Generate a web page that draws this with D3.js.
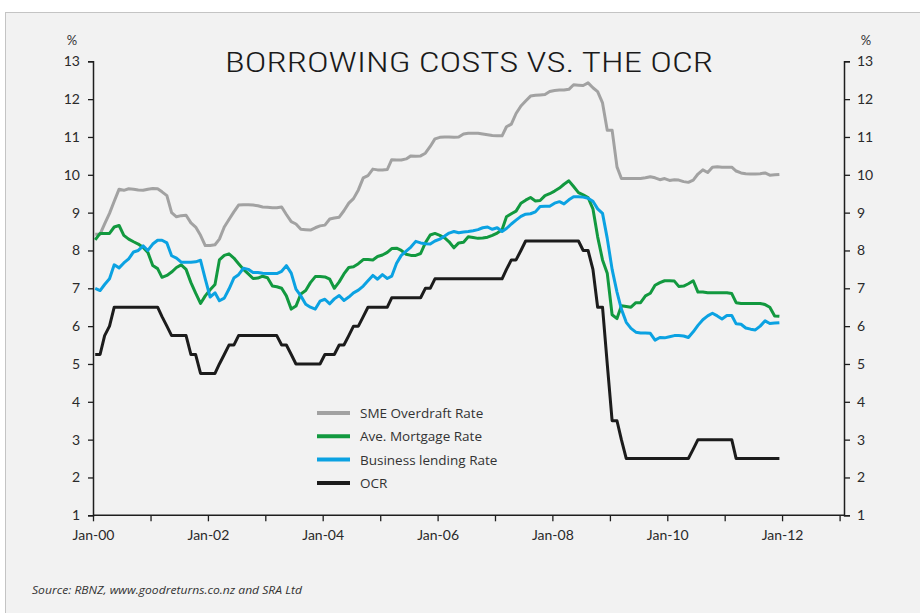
<!DOCTYPE html>
<html>
<head>
<meta charset="utf-8">
<script src="https://cdn.jsdelivr.net/npm/d3@7"></script>
<style>
  html, body { margin: 0; padding: 0; background: #ffffff; }
  svg { display: block; }
</style>
</head>
<body>
<svg id="chart" width="920" height="613"></svg>
<script>
// ---------- DATA (monthly, Jan 2000 – Dec 2011) ----------
const startMonth = "2000-01";
const endMonth = "2011-12";

const smeOverdraft = [
  8.43, 8.43, 8.70, 8.98, 9.30, 9.62, 9.59, 9.63, 9.62, 9.60, 9.59, 9.62,
  9.64, 9.63, 9.55, 9.45, 9.00, 8.89, 8.92, 8.93, 8.73, 8.62, 8.40, 8.13,
  8.13, 8.15, 8.30, 8.62, 8.82, 9.02, 9.20, 9.21, 9.21, 9.20, 9.18, 9.15,
  9.14, 9.13, 9.13, 9.15, 8.95, 8.76, 8.70, 8.56, 8.55, 8.54, 8.60, 8.65,
  8.67, 8.83, 8.86, 8.88, 9.05, 9.25, 9.37, 9.60, 9.92, 9.98, 10.15, 10.13,
  10.13, 10.14, 10.40, 10.39, 10.39, 10.42, 10.50, 10.49, 10.50, 10.57, 10.75, 10.95,
  10.99, 11.00, 11.00, 10.99, 11.00, 11.08, 11.10, 11.10, 11.10, 11.08, 11.06, 11.04,
  11.03, 11.03, 11.27, 11.34, 11.62, 11.82, 11.95, 12.08, 12.10, 12.11, 12.12, 12.20,
  12.23, 12.24, 12.24, 12.26, 12.38, 12.37, 12.36, 12.43, 12.30, 12.20, 11.90, 11.18,
  11.18, 10.21, 9.90, 9.90, 9.90, 9.90, 9.90, 9.92, 9.95, 9.92, 9.87, 9.90,
  9.85, 9.87, 9.86, 9.82, 9.80, 9.86, 10.02, 10.13, 10.06, 10.20, 10.21, 10.20,
  10.20, 10.20, 10.10, 10.05, 10.03, 10.02, 10.02, 10.03, 10.05, 9.99, 10.00, 10.01
];

const mortgageRate = [
  8.28, 8.45, 8.45, 8.45, 8.62, 8.66, 8.40, 8.30, 8.23, 8.17, 8.08, 7.95,
  7.60, 7.52, 7.29, 7.34, 7.43, 7.55, 7.62, 7.50, 7.15, 6.87, 6.60, 6.80,
  6.96, 7.10, 7.75, 7.87, 7.91, 7.80, 7.65, 7.50, 7.38, 7.26, 7.27, 7.32,
  7.28, 7.06, 7.04, 7.00, 6.80, 6.45, 6.53, 6.85, 6.94, 7.15, 7.31, 7.31,
  7.30, 7.24, 7.00, 7.17, 7.38, 7.55, 7.57, 7.65, 7.76, 7.76, 7.75, 7.84,
  7.88, 7.95, 8.05, 8.06, 8.00, 7.90, 7.87, 7.87, 7.92, 8.20, 8.41, 8.45,
  8.40, 8.33, 8.23, 8.07, 8.20, 8.22, 8.36, 8.34, 8.32, 8.33, 8.35, 8.40,
  8.46, 8.55, 8.89, 8.97, 9.04, 9.25, 9.33, 9.40, 9.31, 9.32, 9.45, 9.50,
  9.57, 9.65, 9.75, 9.84, 9.69, 9.53, 9.47, 9.40, 9.10, 8.36, 7.75, 7.40,
  6.30, 6.20, 6.54, 6.52, 6.50, 6.62, 6.62, 6.80, 6.87, 7.08, 7.15, 7.20,
  7.20, 7.19, 7.05, 7.06, 7.12, 7.20, 6.90, 6.90, 6.88, 6.88, 6.88, 6.88,
  6.88, 6.86, 6.62, 6.60, 6.60, 6.60, 6.60, 6.60, 6.57, 6.50, 6.27, 6.26
];

const businessLending = [
  7.00, 6.94, 7.10, 7.25, 7.62, 7.54, 7.67, 7.78, 7.96, 8.00, 8.12, 8.00,
  8.17, 8.27, 8.27, 8.20, 7.86, 7.80, 7.69, 7.69, 7.69, 7.70, 7.74, 7.25,
  6.77, 6.88, 6.67, 6.74, 6.98, 7.27, 7.36, 7.53, 7.50, 7.42, 7.42, 7.40,
  7.39, 7.39, 7.39, 7.45, 7.60, 7.40, 6.98, 6.80, 6.58, 6.50, 6.45, 6.66,
  6.71, 6.59, 6.72, 6.81, 6.68, 6.77, 6.88, 6.95, 7.06, 7.20, 7.34, 7.24,
  7.36, 7.26, 7.32, 7.66, 7.87, 7.98, 8.09, 8.24, 8.20, 8.18, 8.17, 8.25,
  8.30, 8.38, 8.46, 8.50, 8.47, 8.49, 8.50, 8.52, 8.55, 8.60, 8.62, 8.56,
  8.60, 8.50, 8.58, 8.70, 8.80, 8.90, 8.96, 8.97, 9.02, 9.16, 9.17, 9.17,
  9.25, 9.29, 9.23, 9.34, 9.42, 9.42, 9.41, 9.38, 9.30, 9.10, 8.98, 8.32,
  7.50, 6.90, 6.45, 6.10, 5.94, 5.84, 5.82, 5.82, 5.81, 5.63, 5.70, 5.69,
  5.72, 5.75, 5.75, 5.74, 5.70, 5.85, 6.02, 6.17, 6.27, 6.34, 6.27, 6.19,
  6.28, 6.28, 6.06, 6.05, 5.95, 5.92, 5.90, 6.00, 6.14, 6.07, 6.08, 6.09
];

const ocr = [
  5.25, 5.25, 5.75, 6.00, 6.50, 6.50, 6.50, 6.50, 6.50, 6.50, 6.50, 6.50,
  6.50, 6.50, 6.25, 6.00, 5.75, 5.75, 5.75, 5.75, 5.25, 5.25, 4.75, 4.75,
  4.75, 4.75, 5.00, 5.25, 5.50, 5.50, 5.75, 5.75, 5.75, 5.75, 5.75, 5.75,
  5.75, 5.75, 5.75, 5.50, 5.50, 5.25, 5.00, 5.00, 5.00, 5.00, 5.00, 5.00,
  5.25, 5.25, 5.25, 5.50, 5.50, 5.75, 6.00, 6.00, 6.25, 6.50, 6.50, 6.50,
  6.50, 6.50, 6.75, 6.75, 6.75, 6.75, 6.75, 6.75, 6.75, 7.00, 7.00, 7.25,
  7.25, 7.25, 7.25, 7.25, 7.25, 7.25, 7.25, 7.25, 7.25, 7.25, 7.25, 7.25,
  7.25, 7.25, 7.50, 7.75, 7.75, 8.00, 8.25, 8.25, 8.25, 8.25, 8.25, 8.25,
  8.25, 8.25, 8.25, 8.25, 8.25, 8.25, 8.00, 8.00, 7.50, 6.50, 6.50, 5.00,
  3.50, 3.50, 3.00, 2.50, 2.50, 2.50, 2.50, 2.50, 2.50, 2.50, 2.50, 2.50,
  2.50, 2.50, 2.50, 2.50, 2.50, 2.75, 3.00, 3.00, 3.00, 3.00, 3.00, 3.00,
  3.00, 3.00, 2.50, 2.50, 2.50, 2.50, 2.50, 2.50, 2.50, 2.50, 2.50, 2.50
];

const seriesNames = ["SME Overdraft Rate", "Ave. Mortgage Rate", "Business lending Rate", "OCR"];
const seriesColors = ["#a2a2a2", "#12993f", "#0ba2e2", "#1c1c1c"];
const yTickValues = [1, 2, 3, 4, 5, 6, 7, 8, 9, 10, 11, 12, 13];
const xTickYears = [2000, 2001, 2002, 2003, 2004, 2005, 2006, 2007, 2008, 2009, 2010, 2011, 2012, 2013];
const titleText = "BORROWING COSTS VS. THE OCR";
const sourceText = "Source: RBNZ, www.goodreturns.co.nz and SRA Ltd";

// ---------- BUILD ----------
(function () {
const parseMonth = d3.timeParse("%Y-%m");
const months = d3.timeMonth.range(parseMonth(startMonth), d3.timeMonth.offset(parseMonth(endMonth), 1))
  .map(d => new Date(d.getFullYear(), d.getMonth(), 15));
const seriesValues = [smeOverdraft, mortgageRate, businessLending, ocr];

const svg = d3.select("#chart");
const W = 920, H = 613;

// panel
svg.append("rect").attr("x", 5.5).attr("y", 12.5).attr("width", W).attr("height", H)
  .attr("fill", "#f2f2f2").attr("stroke", "#c4c4c4").attr("stroke-width", 1);

const plotLeft = 93, rightAxisX = 844, plotTop = 61.3, plotBottom = 515.3;
const x = d3.scaleTime()
  .domain([new Date(2000, 0, 1), new Date(2013, 0, 1)])
  .range([plotLeft, 839.6]);
const y = d3.scaleLinear().domain([1, 13]).range([plotBottom, plotTop]);

const axisColor = "#1e1e1e";
const labelFont = "Lato, 'Open Sans', sans-serif";

// title
svg.append("text")
  .attr("x", 469).attr("y", 72)
  .attr("text-anchor", "middle")
  .attr("font-family", "'Roboto Condensed', 'Liberation Sans Narrow', 'DejaVu Sans Condensed', Roboto, sans-serif")
  .attr("font-weight", 300)
  .attr("font-size", 28)
  .attr("fill", "#1a1a1a")
  .attr("textLength", 488)
  .attr("lengthAdjust", "spacingAndGlyphs")
  .text(titleText);

// % labels
svg.append("text").attr("x", 72).attr("y", 45).attr("text-anchor", "middle")
  .attr("font-family", labelFont).attr("font-size", 13).attr("fill", "#333").text("%");
svg.append("text").attr("x", 866).attr("y", 45).attr("text-anchor", "middle")
  .attr("font-family", labelFont).attr("font-size", 13).attr("fill", "#333").text("%");

// left axis
const gL = svg.append("g").attr("transform", `translate(${plotLeft},0)`)
  .call(d3.axisLeft(y).tickValues(yTickValues).tickSize(5).tickPadding(8).tickFormat(d3.format("d")));
// right axis
const gR = svg.append("g").attr("transform", `translate(${rightAxisX},0)`)
  .call(d3.axisRight(y).tickValues(yTickValues).tickSize(6).tickPadding(7).tickFormat(d3.format("d")));

// bottom axis
const gB = svg.append("g").attr("transform", `translate(0,${plotBottom})`)
  .call(d3.axisBottom(x)
    .tickValues(xTickYears.map(yr => new Date(yr, 0, 1)))
    .tickSize(6).tickSizeOuter(0).tickPadding(9)
    .tickFormat(d => (d.getFullYear() % 2 === 0 && d.getFullYear() <= 2012) ? "Jan-" + d3.timeFormat("%y")(d) : ""));
gB.select(".domain").remove();
svg.append("line")
  .attr("x1", x.range()[0]).attr("x2", rightAxisX)
  .attr("y1", plotBottom).attr("y2", plotBottom)
  .attr("stroke", axisColor).attr("stroke-width", 1.5);

[gL, gR, gB].forEach(g => {
  g.selectAll(".domain").attr("stroke", axisColor).attr("stroke-width", 1.5);
  g.selectAll(".tick line").attr("stroke", axisColor).attr("stroke-width", 1.3);
  g.selectAll(".tick text").attr("font-family", labelFont).attr("font-size", 14).attr("fill", "#2a2a2a");
});

// lines
const line = d3.line()
  .x((d, i) => x(months[i]))
  .y(d => y(d));

seriesValues.forEach((vals, k) => {
  svg.append("path")
    .datum(vals)
    .attr("fill", "none")
    .attr("stroke", seriesColors[k])
    .attr("stroke-width", 3)
    .attr("stroke-linejoin", "round")
    .attr("d", line);
});

// legend
const legend = svg.append("g").attr("transform", "translate(317,413)");
seriesNames.forEach((name, k) => {
  const g = legend.append("g").attr("transform", `translate(0,${k * 23.3})`);
  g.append("line").attr("x1", 0).attr("x2", 33).attr("y1", 0).attr("y2", 0)
    .attr("stroke", seriesColors[k]).attr("stroke-width", 4);
  g.append("text").attr("x", 43).attr("y", 5)
    .attr("font-family", "'Open Sans', 'Noto Sans', sans-serif")
    .attr("font-size", 13.5).attr("fill", "#333").text(name);
});

// source
svg.append("text")
  .attr("x", 32).attr("y", 594)
  .attr("font-family", "'Liberation Sans Narrow', 'Open Sans', sans-serif")
  .attr("font-style", "italic")
  .attr("font-size", 11)
  .attr("fill", "#333")
  .attr("textLength", 270)
  .attr("lengthAdjust", "spacingAndGlyphs")
  .text(sourceText);
})();
</script>
</body>
</html>
